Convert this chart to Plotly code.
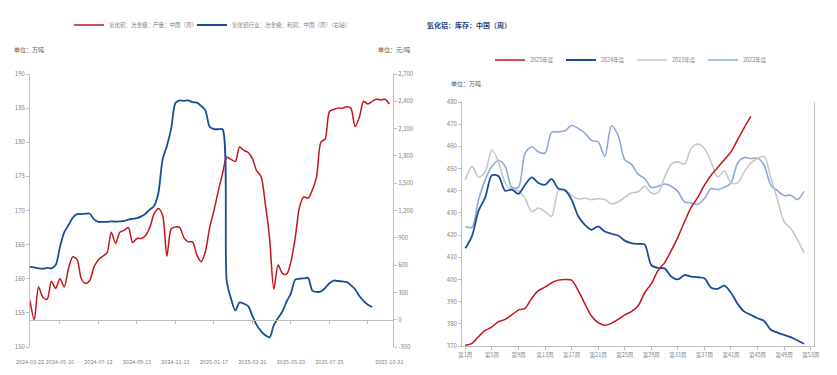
import plotly.graph_objects as go
import pandas as pd

# ---------------- Left chart data ----------------
week_dates = pd.date_range("2024-03-22", periods=85, freq="7D")

production = [
    156.8, 154.0, 158.8, 157.3, 157.0, 159.6, 158.6, 160.0, 158.8, 161.5,
    163.2, 162.8, 160.0, 159.3, 159.8, 161.8, 162.8, 163.3, 163.8, 166.8,
    165.2, 166.8, 167.1, 167.5, 165.3, 165.9, 165.9, 166.3, 167.5, 169.5,
    170.3, 169.3, 163.3, 167.3, 167.6, 167.5, 166.0, 165.4, 165.4, 163.5,
    162.5, 164.0, 167.5, 170.0, 172.8, 175.4, 177.8, 177.5, 177.2, 179.3,
    178.8, 178.5, 177.6, 175.8, 175.0, 171.0, 166.0, 158.5, 162.0, 160.8,
    160.7, 162.5, 166.0, 170.5, 172.0, 171.8, 173.0, 175.0, 180.0, 180.5,
    184.5, 184.8, 185.0, 185.0, 185.2, 185.0, 182.3, 183.7, 186.0, 185.6,
    186.0, 186.3, 186.2, 186.3, 185.6,
]

profit = [
    580, 575, 565, 560, 570, 565, 600, 800, 960, 1040,
    1120, 1160, 1160, 1165, 1165, 1100, 1075, 1075, 1075, 1080,
    1078, 1080, 1085, 1100, 1108, 1115, 1135, 1165, 1210, 1250,
    1390, 1760, 1910, 2100, 2380, 2410, 2405, 2410, 2390, 2385,
    2350, 2300, 2120, 2095, 2093, 2093, 420, 230, 100, 190,
    175, 150, 40, -60, -125, -170, -195, -60, 20, 90,
    200, 290, 440, 450, 455, 460, 320, 305, 310, 350,
    400, 430, 425, 420, 415, 380, 335, 260, 205, 165,
    140,
]

left_tick_dates = ["2024-03-22", "2024-05-10", "2024-07-12", "2024-09-13", "2024-11-15",
                   "2025-01-17", "2025-03-21", "2025-05-23", "2025-07-25", "2025-10-31"]
left_minor_ticks = ["2024-05-10", "2024-07-12", "2024-09-13", "2024-11-15", "2025-01-17",
                    "2025-03-21", "2025-05-23", "2025-07-25", "2025-09-26"]
profit_ticks = list(range(-300, 2701, 300))
profit_tick_text = [f"{v:,}" for v in profit_ticks]

# ---------------- Right chart data ----------------
week_nums = list(range(1, 54))
week_labels = [f"第{w}周" for w in week_nums]

inv_2025 = [
    370.3, 371.2, 374.3, 377.0, 378.6, 381.0, 382.0, 384.0, 386.2, 387.0,
    391.5, 395.0, 396.5, 398.5, 399.7, 400.0, 399.7, 395.0, 389.0, 383.5,
    380.5, 379.3, 380.2, 382.0, 384.0, 385.5, 388.0, 394.0, 398.0, 404.0,
    407.5, 413.0, 419.0, 426.0, 432.5, 437.0, 442.5, 447.0, 450.5, 454.0,
    457.5, 463.0, 468.5, 473.5,
]
inv_2024 = [
    414.0, 419.5, 431.0, 437.0, 447.0, 446.5, 440.0, 440.5, 438.6, 442.7,
    446.0, 443.5, 442.7, 445.3, 441.0, 440.2, 436.0, 428.5, 424.6, 422.4,
    423.9, 421.6, 420.6, 419.8, 417.5, 416.4, 416.0, 415.8, 406.5, 405.2,
    405.0, 401.3, 400.0, 402.0, 401.3, 401.0, 400.5, 396.3, 395.8, 397.2,
    394.0, 389.0, 385.5, 384.0, 382.5, 381.3, 377.3, 376.0, 375.0, 374.0,
    372.5, 371.0,
]
inv_2023 = [
    445.0, 451.0, 446.0, 448.5, 458.5, 453.0, 443.5, 440.5, 440.0, 436.5,
    430.6, 432.2, 430.6, 428.4, 440.0, 440.4, 438.0, 436.3, 436.6, 436.0,
    436.4, 436.0, 434.0, 435.0, 437.0, 439.0, 439.5, 442.0, 439.0, 439.0,
    446.0, 452.0, 453.0, 452.0, 459.0, 461.0, 459.0, 453.0, 446.2, 449.0,
    443.5, 443.5, 448.5, 452.5, 454.5, 455.5, 446.0, 436.0, 426.0, 423.0,
    418.0, 412.0,
]
inv_2022 = [
    423.8, 423.5, 436.0, 445.0, 451.0, 453.6, 451.0, 441.5, 441.5, 457.0,
    459.8, 457.5, 457.0, 466.3, 466.5, 467.0, 469.5, 468.0, 466.0, 462.7,
    462.0, 455.5, 469.3, 465.0, 454.0, 452.0, 447.5, 445.5, 441.5, 442.0,
    443.0, 442.0, 439.7, 435.0, 434.5, 433.8, 436.5, 441.0, 440.5, 441.5,
    443.5, 452.5, 455.0, 454.5, 454.7, 451.5, 442.5, 440.0, 437.8, 438.0,
    436.0, 439.7,
]

# ---------------- Styling ----------------
RED = "#C3161C"
BLUE = "#1B4B9B"
GREY = "#C8C8C8"
LBLUE = "#8EA8D4"
AXIS = "#BFBFBF"
TXT = "#7F7F7F"
FONT = "Liberation Sans Narrow, Noto Sans CJK SC, sans-serif"
CJK = "Noto Sans CJK SC, sans-serif"

W, H = 837, 375
def px_x(p):
    return p / W
def px_y(p):
    return 1 - p / H

fig = go.Figure()

fig.add_trace(go.Scatter(
    x=week_dates, y=production, name="氧化铝：冶金级：产量：中国（周）",
    mode="lines", line=dict(color=RED, width=1.5, shape="spline", smoothing=0.8),
    xaxis="x", yaxis="y", legend="legend", hoverinfo="skip"))
fig.add_trace(go.Scatter(
    x=week_dates[:len(profit)], y=profit, name="氧化铝行业：冶金级：利润：中国（周）（右轴）",
    mode="lines", line=dict(color=BLUE, width=1.8, shape="spline", smoothing=0.8),
    xaxis="x", yaxis="y2", legend="legend3", hoverinfo="skip"))
fig.add_trace(go.Scatter(
    x=week_dates[:1], y=profit[:1], mode="markers", marker=dict(opacity=0),
    xaxis="x3", yaxis="y2", showlegend=False, hoverinfo="skip"))

right_series = [
    ("2022年度", inv_2022, LBLUE, 1.6, 4),
    ("2023年度", inv_2023, GREY, 1.6, 3),
    ("2024年度", inv_2024, BLUE, 1.8, 2),
    ("2025年度", inv_2025, RED, 1.5, 1),
]
for name, vals, col, wd, rank in right_series:
    fig.add_trace(go.Scatter(
        x=week_nums[:len(vals)], y=vals, name=name, mode="lines",
        line=dict(color=col, width=wd, shape="spline", smoothing=0.8),
        xaxis="x4", yaxis="y4", legend="legend2", legendrank=rank, hoverinfo="skip"))

left_dom_x = [px_x(30), px_x(393)]
left_dom_y = [px_y(347), px_y(74)]
right_dom_x = [px_x(462), px_x(814)]
right_dom_y = [px_y(346), px_y(102)]

x_range = ["2024-03-22", "2025-11-06"]

legend_common = dict(orientation="h", xanchor="left", yanchor="middle",
                     font=dict(size=5.5, color=TXT, family=CJK),
                     bgcolor="rgba(0,0,0,0)", itemwidth=30)

fig.update_layout(
    width=W, height=H,
    margin=dict(l=0, r=0, t=0, b=0, pad=0, autoexpand=False),
    paper_bgcolor="white", plot_bgcolor="white",
    font=dict(family=FONT, size=6, color=TXT),
    xaxis=dict(domain=left_dom_x, type="date", range=x_range,
               tickvals=left_tick_dates, ticktext=left_tick_dates, tickangle=0,
               showline=False, showgrid=False, zeroline=False,
               ticks="outside", ticklen=9, tickcolor="rgba(0,0,0,0)",
               tickfont=dict(size=5.5, color=TXT), anchor="y", automargin=False),
    xaxis3=dict(domain=left_dom_x, type="date", range=x_range, overlaying="x",
                anchor="free", position=px_y(319.5),
                tickvals=left_minor_ticks, showticklabels=False,
                showline=True, linecolor=AXIS, linewidth=1,
                ticks="outside", ticklen=3, tickcolor=AXIS,
                showgrid=False, zeroline=False, automargin=False),
    yaxis=dict(domain=left_dom_y, range=[150, 190], tickvals=list(range(150, 191, 5)),
               showline=True, linecolor=AXIS, ticks="outside", ticklen=3, tickcolor=AXIS,
               showgrid=False, zeroline=False, tickfont=dict(size=6, color=TXT),
               anchor="x", automargin=False),
    yaxis2=dict(range=[-300, 2700], tickvals=profit_ticks, ticktext=profit_tick_text,
                overlaying="y", side="right", anchor="x",
                showline=True, linecolor=AXIS, ticks="outside", ticklen=3, tickcolor=AXIS,
                showgrid=False, zeroline=False, tickfont=dict(size=6, color=TXT),
                automargin=False),
    xaxis4=dict(domain=right_dom_x, range=[0.5, 53.5], tickvals=week_nums[::4],
                ticktext=week_labels[::4], tickangle=0, showline=True, linecolor=AXIS,
                ticks="outside", ticklen=3, tickcolor=AXIS, showgrid=False, zeroline=False,
                tickfont=dict(size=5.5, color=TXT, family=CJK), anchor="y4", automargin=False),
    yaxis4=dict(domain=right_dom_y, range=[370, 480], dtick=10, tick0=370,
                showline=True, mirror=True, linecolor=AXIS, ticks="outside", ticklen=3,
                tickcolor=AXIS, showgrid=False, zeroline=False,
                tickfont=dict(size=6, color=TXT), anchor="x4", automargin=False),
    legend=dict(x=px_x(69), y=px_y(25), **legend_common),
    legend3=dict(x=px_x(192), y=px_y(25), **legend_common),
    legend2=dict(x=px_x(490), y=px_y(60), entrywidth=26, traceorder="normal",
                 **legend_common),
    annotations=[
        dict(text="单位：万吨", x=px_x(12), y=px_y(50), xref="paper", yref="paper",
             xanchor="left", yanchor="middle", showarrow=False,
             font=dict(size=6, color="#595959", family=CJK)),
        dict(text="单位：元/吨", x=px_x(412), y=px_y(50), xref="paper", yref="paper",
             xanchor="right", yanchor="middle", showarrow=False,
             font=dict(size=6, color="#595959", family=CJK)),
        dict(text="<b>氧化铝：库存：中国（周）</b>", x=px_x(425), y=px_y(25), xref="paper",
             yref="paper", xanchor="left", yanchor="middle", showarrow=False,
             font=dict(size=7, color="#1F3F7F", family=CJK)),
        dict(text="单位：万吨", x=px_x(449), y=px_y(83), xref="paper", yref="paper",
             xanchor="left", yanchor="middle", showarrow=False,
             font=dict(size=6, color="#595959", family=CJK)),
    ],
    showlegend=True,
)

fig.write_html(
    "out.html",
    config={"displayModeBar": False, "responsive": False},
    post_script="document.body.style.margin='0';document.body.style.overflow='hidden';"
                "document.documentElement.style.overflow='hidden';",
)
